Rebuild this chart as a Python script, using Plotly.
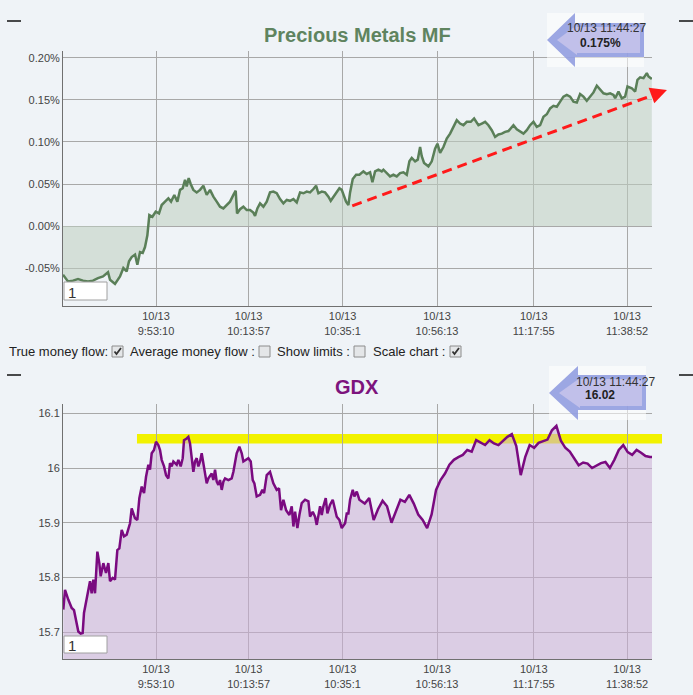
import plotly.graph_objects as go

# ---------------- data ----------------
# times are minutes after 9:30 on 10/13
mf_times = [
    2.30, 3.42, 4.54, 5.67, 6.79, 7.91, 9.03, 10.15, 11.28, 12.40, 12.85, 13.97, 15.09, 15.84,
    16.59, 17.11, 17.71, 18.46, 18.98, 19.58, 20.18, 20.70, 21.23, 21.67, 22.35, 23.10, 23.84,
    24.44, 25.19, 25.94, 26.54, 27.28, 27.96, 28.56, 29.16, 29.68, 30.05, 30.50, 30.95, 31.55,
    32.30, 33.05, 33.79, 34.54, 35.29, 36.04, 36.79, 37.53, 38.28, 39.03, 39.78, 40.53, 41.05,
    41.35, 42.02, 42.77, 43.52, 44.27, 45.01, 45.39, 45.91, 46.51, 47.26, 48.01, 48.75, 49.50,
    50.25, 51.00, 51.75, 52.50, 53.24, 53.99, 54.74, 55.49, 56.24, 56.98, 57.73, 58.48, 59.08,
    59.60, 60.35, 61.10, 61.85, 62.37, 62.97, 63.72, 64.31, 64.84, 65.36, 65.81, 66.33, 66.71,
    67.31, 68.06, 68.80,
    69.70, 70.45, 71.20, 71.72, 72.32, 73.07, 73.82, 74.19, 74.94, 75.68, 76.43, 77.18, 77.93,
    78.68, 79.43, 80.02, 80.55, 81.30, 81.89, 82.42, 82.79, 83.31, 84.29, 85.04, 85.78, 86.31,
    86.91, 87.65, 88.40, 89.15, 89.90, 90.65, 91.39, 92.14, 92.89, 93.79, 94.54, 95.51, 96.26,
    97.01, 97.75, 98.50, 99.25, 100.00, 100.75, 101.49, 102.24, 103.36, 104.11, 104.86, 105.61,
    106.36, 107.10, 107.85, 108.60, 109.35, 110.10, 110.84, 111.59, 112.34, 113.09, 113.84,
    114.58, 115.33, 116.08, 116.83, 117.58, 118.32, 119.07, 119.82, 120.57, 121.32, 122.07,
    122.81, 123.56, 124.31, 125.06, 125.81, 126.18, 126.93, 127.68, 128.42, 128.95, 129.92,
    130.67, 131.19, 131.79, 132.54, 133.29, 133.66, 134.41,
]
mf_pct = [
    -0.058, -0.066, -0.065, -0.063, -0.065, -0.066, -0.065, -0.062, -0.060, -0.055, -0.064,
    -0.069, -0.060, -0.050, -0.054, -0.042, -0.037, -0.034, -0.046, -0.031, -0.032, -0.025,
    -0.011, 0.013, 0.011, 0.017, 0.015, 0.025, 0.029, 0.033, 0.029, 0.037, 0.029, 0.043,
    0.045, 0.055, 0.047, 0.057, 0.050, 0.043, 0.040, 0.043, 0.048, 0.037, 0.043, 0.035,
    0.029, 0.023, 0.021, 0.025, 0.029, 0.037, 0.042, 0.015, 0.020, 0.023, 0.019, 0.019,
    0.016, 0.012, 0.021, 0.027, 0.023, 0.029, 0.040, 0.041, 0.039, 0.032, 0.027, 0.031,
    0.030, 0.032, 0.028, 0.040, 0.039, 0.041, 0.040, 0.044, 0.048, 0.039, 0.041, 0.040,
    0.035, 0.030, 0.035, 0.041, 0.045, 0.043, 0.035, 0.029, 0.025, 0.040, 0.056, 0.061,
    0.061,
    0.065, 0.062, 0.064, 0.052, 0.065, 0.067, 0.065, 0.067, 0.063, 0.059, 0.061, 0.059,
    0.063, 0.064, 0.061, 0.077, 0.081, 0.077, 0.079, 0.094, 0.083, 0.075, 0.071, 0.077,
    0.092, 0.098, 0.087, 0.094, 0.104, 0.110, 0.118, 0.126, 0.122, 0.120, 0.124, 0.124,
    0.128, 0.120, 0.122, 0.124, 0.120, 0.114, 0.106, 0.109, 0.110, 0.112, 0.113, 0.120,
    0.115, 0.112, 0.110, 0.114, 0.120, 0.124, 0.118, 0.120, 0.130, 0.133, 0.140, 0.143,
    0.142, 0.148, 0.154, 0.156, 0.154, 0.148, 0.147, 0.157, 0.154, 0.149, 0.154, 0.159,
    0.167, 0.162, 0.158, 0.157, 0.158, 0.156, 0.152, 0.160, 0.152, 0.154, 0.166, 0.164,
    0.160, 0.174, 0.177, 0.176, 0.182, 0.178, 0.175,
]

gdx_times = [
    2.37, 2.75, 3.50, 4.25, 4.77, 5.22, 5.74, 6.27, 6.71, 7.01, 7.61, 7.99, 8.36, 8.73, 9.11,
    9.48, 10.01, 10.45, 10.75, 11.35, 11.95, 12.47, 12.85, 13.45, 13.97, 14.49, 14.94, 15.47,
    15.99, 16.59, 17.34, 17.71, 18.46, 18.98, 19.43, 19.96, 20.48, 20.93, 21.45, 21.82, 22.20,
    22.72, 23.17, 23.69, 24.07, 24.44, 24.97, 25.42, 25.94, 26.31, 26.69, 27.06, 27.81, 28.18,
    28.71, 29.16, 29.45, 30.05, 30.43, 30.80, 31.18, 31.55, 31.92, 32.30, 32.67, 33.05, 33.42,
    33.79, 34.17, 34.54, 34.92, 35.29, 35.66, 36.04, 36.41, 36.79, 37.16, 37.53, 37.91, 38.28,
    38.66, 39.40, 40.15, 40.53, 40.90, 41.27, 41.87, 42.40, 42.77, 43.37, 43.89, 44.42, 44.87,
    45.24, 45.76, 46.51, 47.03, 47.41, 48.01, 48.75, 49.50, 50.25, 50.77, 51.22, 51.75, 52.35,
    53.09, 53.62, 53.99, 54.37, 54.89, 55.34, 55.86, 56.61, 57.36, 57.73, 58.33, 58.85, 59.23,
    59.98, 60.35, 60.72, 61.25, 61.62, 62.22, 62.82, 63.19, 63.72, 64.31, 64.84, 65.59, 65.96,
    66.33, 66.71, 67.31, 67.68, 68.21, 68.80,
    70, 71, 72, 73, 74, 75, 76, 77, 78, 79, 80, 81, 82, 83, 84, 85, 86, 87, 88, 89, 90, 91,
    92, 93, 94, 95, 96, 97, 98, 99, 100, 101, 102, 103, 104, 105, 106, 107, 108, 109, 110,
    111, 112, 113, 114, 115, 116, 117, 118, 119, 120, 121, 122, 123, 124, 125, 126, 127, 128,
    129, 130, 131, 132, 133, 134, 134.45,
]
gdx_price = [
    15.741, 15.777, 15.759, 15.744, 15.740, 15.720, 15.701, 15.697, 15.698, 15.735, 15.759,
    15.777, 15.793, 15.771, 15.796, 15.771, 15.847, 15.826, 15.802, 15.826, 15.808, 15.826,
    15.793, 15.799, 15.796, 15.850, 15.853, 15.887, 15.875, 15.878, 15.899, 15.926, 15.908,
    15.905, 15.945, 15.966, 15.954, 15.984, 16.006, 15.997, 16.027, 16.033, 16.048, 16.042,
    16.033, 16.015, 16.003, 15.987, 15.981, 16.009, 16.003, 16.012, 16.006, 16.015, 16.003,
    16.018, 16.051, 16.054, 16.057, 16.045, 16.015, 15.993, 16.012, 16.018, 16.003, 16.012,
    16.027, 16.009, 15.993, 15.972, 15.981, 15.987, 15.990, 15.978, 15.997, 15.975, 15.969,
    15.978, 15.960, 15.975, 15.981, 15.978, 15.981, 15.993, 16.015, 16.027, 16.039, 16.027,
    16.012, 16.015, 16.018, 16.012, 15.978, 15.972, 15.948, 15.951, 15.960, 15.954, 15.987,
    15.993, 15.972, 15.960, 15.963, 15.923, 15.942, 15.923, 15.914, 15.930, 15.893, 15.920,
    15.890, 15.914, 15.936, 15.942, 15.939, 15.911, 15.920, 15.911, 15.896, 15.930, 15.914,
    15.930, 15.945, 15.917, 15.933, 15.942, 15.930, 15.911, 15.905, 15.890, 15.899, 15.917,
    15.917, 15.942, 15.960, 15.948, 15.957, 15.942,
    15.935, 15.945, 15.905, 15.925, 15.940, 15.930, 15.900, 15.920, 15.942, 15.938, 15.951,
    15.935, 15.915, 15.905, 15.890, 15.915, 15.960, 15.978, 15.990, 16.006, 16.015, 16.020,
    16.024, 16.033, 16.030, 16.051, 16.046, 16.042, 16.051, 16.045, 16.042, 16.050, 16.057,
    16.062, 16.040, 15.987, 16.020, 16.042, 16.037, 16.046, 16.049, 16.052, 16.069, 16.077,
    16.050, 16.037, 16.030, 16.018, 16.005, 16.010, 16.008, 16.000, 16.004, 16.009, 16.011,
    16.000, 16.015, 16.033, 16.042, 16.029, 16.024, 16.033, 16.028, 16.022, 16.020, 16.020,
]
assert len(mf_times) == len(mf_pct), (len(mf_times), len(mf_pct))
assert len(gdx_times) == len(gdx_price), (len(gdx_times), len(gdx_price))

tick_times = ["9:53:10", "10:13:57", "10:35:1", "10:56:13", "11:17:55", "11:38:52"]
tick_date = "10/13"
mf_ticks = [-0.05, 0.0, 0.05, 0.10, 0.15, 0.20]
mf_tick_labels = ["-0.05%", "0.00%", "0.05%", "0.10%", "0.15%", "0.20%"]
gdx_ticks = [15.7, 15.8, 15.9, 16.0, 16.1]
gdx_tick_labels = ["15.7", "15.8", "15.9", "16", "16.1"]

last_stamp = "10/13 11:44:27"
mf_last_label = "0.175%"
gdx_last_label = "16.02"

resistance = [16.045, 16.062]          # yellow band (price)
resistance_start = 18.9                # minutes
trend_start = (67.2, 0.024)            # (minutes, %)
trend_end = (137.8, 0.162)

# ---------------- geometry ----------------
W, H = 693, 695
BG = "#eff3f7"
FONT = "Liberation Sans, Arial, sans-serif"


def PX(x):
    return x / W


def PY(y):
    return 1 - y / H


def to_min(s):
    p = [int(v) for v in s.split(":")]
    return (p[0] * 60 + p[1] + p[2] / 60.0) - 9 * 60 - 30


tickvals = [to_min(s) for s in tick_times]
ticktext = [f"{tick_date}<br>{s}" for s in tick_times]

xdom = [PX(63), PX(652)]
ydom1 = [PY(306), PY(51)]
ydom2 = [PY(659), PY(403.5)]
xr = [2.3, 134.45]
yr1 = [-0.0952, 0.2083]
yr2 = [15.6507, 16.118]


def xp(m):
    return xdom[0] + (m - xr[0]) / (xr[1] - xr[0]) * (xdom[1] - xdom[0])


def yp(v, dom, rng):
    return dom[0] + (v - rng[0]) / (rng[1] - rng[0]) * (dom[1] - dom[0])


fig = go.Figure()
fig.add_trace(go.Scatter(
    x=mf_times, y=mf_pct, mode="lines", fill="tozeroy",
    line=dict(color="#5a7f58", width=2.5),
    fillcolor="rgba(190,205,192,0.55)",
    xaxis="x", yaxis="y", showlegend=False, hoverinfo="skip"))
fig.add_trace(go.Scatter(
    x=gdx_times, y=gdx_price, mode="lines", fill="tozeroy",
    line=dict(color="#7a0a80", width=2.5),
    fillcolor="rgba(203,173,213,0.55)",
    xaxis="x2", yaxis="y2", showlegend=False, hoverinfo="skip"))

axis_common = dict(showgrid=True, gridcolor="#a8a8a8", gridwidth=1,
                   zeroline=False, ticks="", showline=True,
                   linecolor="#707070", linewidth=1,
                   tickfont=dict(family=FONT, size=11, color="#444"),
                   fixedrange=True)

fig.update_layout(
    width=W, height=H, autosize=False,
    margin=dict(l=0, r=0, t=0, b=0),
    paper_bgcolor=BG, plot_bgcolor=BG,
    xaxis=dict(domain=xdom, range=xr, anchor="y", tickvals=tickvals,
               ticktext=ticktext, **axis_common),
    yaxis=dict(domain=ydom1, range=yr1, anchor="x", tickvals=mf_ticks,
               ticktext=mf_tick_labels, **axis_common),
    xaxis2=dict(domain=xdom, range=xr, anchor="y2", tickvals=tickvals,
                ticktext=ticktext, **axis_common),
    yaxis2=dict(domain=ydom2, range=yr2, anchor="x2", tickvals=gdx_ticks,
                ticktext=gdx_tick_labels, **axis_common),
)

shapes = []
ann = []

# yellow resistance band (extends a bit beyond the plot, as in the original)
shapes.append(dict(type="rect", xref="paper", yref="paper", layer="below",
                   x0=xp(resistance_start), x1=PX(662),
                   y0=yp(resistance[0], ydom2, yr2), y1=yp(resistance[1], ydom2, yr2),
                   fillcolor="#f2f200", line=dict(width=0)))

# red dashed trend arrow
sx, sy = xp(trend_start[0]), yp(trend_start[1], ydom1, yr1)
ex, ey = xp(trend_end[0]), yp(trend_end[1], ydom1, yr1)
dxp, dyp = (ex - sx) * W, (ey - sy) * H
L = (dxp ** 2 + dyp ** 2) ** 0.5
ux, uy = dxp / L, dyp / L
shapes.append(dict(type="line", xref="paper", yref="paper",
                   x0=sx, y0=sy, x1=ex - ux * 9 / W, y1=ey - uy * 9 / H,
                   line=dict(color="#ff1a1a", width=3, dash="10px,6px")))
ann.append(dict(xref="paper", yref="paper", x=ex, y=ey, text="",
                showarrow=True, arrowhead=2, arrowsize=1.1, arrowwidth=3,
                arrowcolor="#ff1a1a", ax=-ux * 16, ay=uy * 16))


def callout(x0, x1, y0, y1, head_x, body_y0, body_y1, tip_y, line1, line2,
            t1x, t1y, t2x, t2y):
    shapes.append(dict(type="rect", xref="paper", yref="paper",
                       x0=PX(x0), x1=PX(x1), y0=PY(y1), y1=PY(y0),
                       fillcolor="rgba(255,255,255,0.55)", line=dict(width=0)))
    pts = [(x0, tip_y), (head_x, y0), (head_x, body_y0), (x1, body_y0),
           (x1, body_y1), (head_x, body_y1), (head_x, y1)]
    path = "M " + " L ".join(f"{PX(a):.5f},{PY(b):.5f}" for a, b in pts) + " Z"
    shapes.append(dict(type="path", xref="paper", yref="paper", path=path,
                       fillcolor="rgba(140,152,222,0.85)", line=dict(width=0)))
    inner = [(x0 + 10, tip_y), (head_x + 2, y0 + 12), (head_x + 2, body_y0 + 4),
             (x1 - 4, body_y0 + 4), (x1 - 4, body_y1 - 4),
             (head_x + 2, body_y1 - 4), (head_x + 2, y1 - 12)]
    path2 = "M " + " L ".join(f"{PX(a):.5f},{PY(b):.5f}" for a, b in inner) + " Z"
    shapes.append(dict(type="path", xref="paper", yref="paper", path=path2,
                       fillcolor="rgba(205,200,236,0.75)", line=dict(width=0)))
    ann.append(dict(xref="paper", yref="paper", x=PX(t1x), y=PY(t1y), text=line1,
                    showarrow=False, xanchor="center", yanchor="middle",
                    font=dict(family=FONT, size=12, color="#333")))
    ann.append(dict(xref="paper", yref="paper", x=PX(t2x), y=PY(t2y),
                    text=f"<b>{line2}</b>", showarrow=False, xanchor="center",
                    yanchor="middle", font=dict(family=FONT, size=12, color="#222")))


callout(547, 644, 13, 67, 575, 23, 57, 40, last_stamp, mf_last_label, 607, 28, 600, 43)
callout(549, 646, 366, 420, 578, 375, 410, 393, last_stamp, gdx_last_label, 616, 382, 600, 395)

# titles
ann.append(dict(xref="paper", yref="paper", x=PX(357), y=PY(35),
                text="<b>Precious Metals MF</b>", showarrow=False,
                xanchor="center", yanchor="middle",
                font=dict(family=FONT, size=20, color="#5f845f")))
ann.append(dict(xref="paper", yref="paper", x=PX(357), y=PY(387),
                text="<b>GDX</b>", showarrow=False, xanchor="center",
                yanchor="middle", font=dict(family=FONT, size=20, color="#7d147d")))

# small dashes at corners
for yy in (21, 375):
    for xa, xb in ((7, 21), (679, 693)):
        shapes.append(dict(type="line", xref="paper", yref="paper",
                           x0=PX(xa), x1=PX(xb), y0=PY(yy), y1=PY(yy),
                           line=dict(color="#111", width=1.5)))

# input boxes "1"
for y0, y1 in ((282, 300), (636, 653)):
    shapes.append(dict(type="rect", xref="paper", yref="paper",
                       x0=PX(64), x1=PX(107), y0=PY(y1), y1=PY(y0),
                       fillcolor="white", line=dict(color="#a0a0a0", width=1)))
    ann.append(dict(xref="paper", yref="paper", x=PX(66), y=PY((y0 + y1) / 2 + 1),
                    text="1", showarrow=False, xanchor="left", yanchor="middle",
                    font=dict(family=FONT, size=15, color="#333")))

# option row
labels = [("True money flow:", 7, True, 112), ("Average money flow :", 128, False, 259),
          ("Show limits :", 275, False, 354), ("Scale chart :", 371, True, 450)]
for text, tx, checked, bx in labels:
    ann.append(dict(xref="paper", yref="paper", x=PX(tx), y=PY(351), text=text,
                    showarrow=False, xanchor="left", yanchor="middle",
                    font=dict(family=FONT, size=13, color="#222")))
    shapes.append(dict(type="rect", xref="paper", yref="paper",
                       x0=PX(bx), x1=PX(bx + 11), y0=PY(357), y1=PY(346),
                       fillcolor="#e4e6e8", line=dict(color="#8c8c8c", width=1)))
    if checked:
        pts = [(bx + 2.5, 351.5), (bx + 4.5, 354), (bx + 9, 348)]
        path = "M " + " L ".join(f"{PX(a):.5f},{PY(b):.5f}" for a, b in pts)
        shapes.append(dict(type="path", xref="paper", yref="paper", path=path,
                           line=dict(color="#333", width=1.8)))

fig.update_layout(shapes=shapes, annotations=ann)
fig.write_html(
    "out.html",
    config={"displayModeBar": False},
    post_script="document.body.style.margin='0';document.body.style.background='#eff3f7';",
)
